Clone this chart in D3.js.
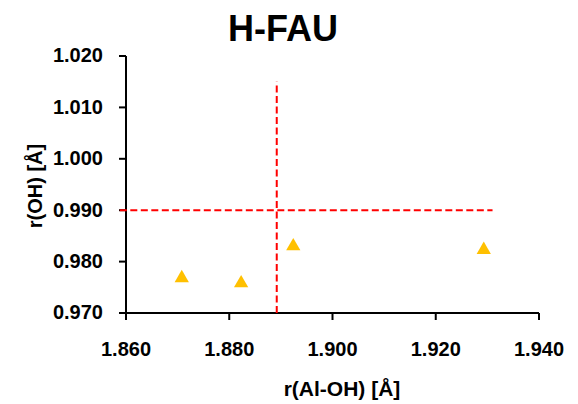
<!DOCTYPE html>
<html>
<head>
<meta charset="utf-8">
<script src="https://cdn.jsdelivr.net/npm/d3@7/dist/d3.min.js"></script>
<style>
  html, body { margin: 0; padding: 0; background: #fff; }
  svg text { font-family: "Liberation Sans", Arial, sans-serif; font-weight: bold; fill: #000; }
</style>
</head>
<body>
<svg id="chart" width="578" height="404"></svg>
<script>
// H-FAU: O–H bond length versus Al–OH distance
const alOH = [1.8708, 1.8823, 1.8924, 1.9293];
const rOH  = [0.9768, 0.9758, 0.9830, 0.9823];

const xTicks = [1.860, 1.880, 1.900, 1.920, 1.940];
const yTicks = [0.970, 0.980, 0.990, 1.000, 1.010, 1.020];

// dashed guide lines: [x1, y1, x2, y2]
const guideV = [1.8892, 0.970, 1.8892, 1.015];
const guideH = [1.8588, 0.990, 1.931, 0.990];

const titleText = "H-FAU";
const xTitle = "r(Al-OH) [Å]";
const yTitle = "r(OH) [Å]";

const svg = d3.select("#chart");
const plot = { left: 126, right: 539, top: 56, bottom: 313 };

const x = d3.scaleLinear().domain([1.860, 1.940]).range([plot.left, plot.right]);
const y = d3.scaleLinear().domain([0.970, 1.020]).range([plot.bottom, plot.top]);

const fmt = d3.format(".3f");

const xAxis = svg.append("g")
  .attr("transform", `translate(0,${plot.bottom})`)
  .call(d3.axisBottom(x).offset(0).tickValues(xTicks).tickFormat(fmt).tickSizeInner(7).tickSizeOuter(0).tickPadding(22));
const yAxis = svg.append("g")
  .attr("transform", `translate(${plot.left},0)`)
  .call(d3.axisLeft(y).offset(0).tickValues(yTicks).tickFormat(fmt).tickSizeInner(7).tickSizeOuter(0).tickPadding(16));

[xAxis, yAxis].forEach(g => {
  g.selectAll("path.domain").attr("stroke", "#000").attr("stroke-width", 2);
  g.selectAll(".tick line").attr("stroke", "#000").attr("stroke-width", 2);
  g.selectAll(".tick text").style("font-size", "20px").style("font-family", "'Liberation Sans', Arial, sans-serif").style("font-weight", "bold");
});

// dashed reference lines
svg.append("line")
  .attr("x1", x(guideV[0])).attr("y1", y(guideV[1]))
  .attr("x2", x(guideV[2])).attr("y2", y(guideV[3]))
  .attr("stroke", "#ff0000").attr("stroke-width", 2).attr("stroke-dasharray", "7,3.5");
svg.append("line")
  .attr("x1", x(guideH[0])).attr("y1", y(guideH[1]))
  .attr("x2", x(guideH[2])).attr("y2", y(guideH[3]))
  .attr("stroke", "#ff0000").attr("stroke-width", 2).attr("stroke-dasharray", "7,3.5");

// triangle markers
const tri = d3.symbol().type(d3.symbolTriangle).size(88);
svg.append("g").selectAll("path")
  .data(alOH.map((v, i) => [v, rOH[i]]))
  .join("path")
  .attr("d", tri)
  .attr("transform", d => `translate(${x(d[0])},${y(d[1])})`)
  .attr("fill", "#ffc000");

// titles
svg.append("text")
  .attr("x", 283).attr("y", 40.7)
  .attr("text-anchor", "middle")
  .style("font-size", "36px")
  .text(titleText);

svg.append("text")
  .attr("x", 342).attr("y", 396)
  .attr("text-anchor", "middle")
  .style("font-size", "21px")
  .text(xTitle);

svg.append("text")
  .attr("transform", "translate(41.5,186) rotate(-90)")
  .attr("text-anchor", "middle")
  .style("font-size", "20px")
  .text(yTitle);
</script>
</body>
</html>
